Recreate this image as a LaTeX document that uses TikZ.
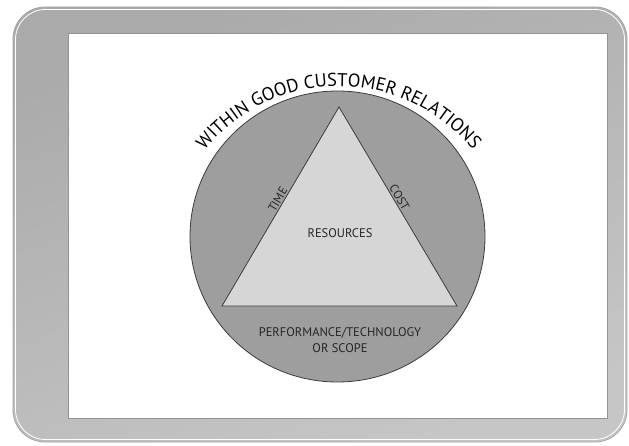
\documentclass[tikz,border=0pt]{standalone}
\usepackage{fontspec}
\setmainfont{PT Sans}
\usetikzlibrary{decorations.text}
\definecolor{bandgray}{HTML}{AAAAAA}
\definecolor{bandlight}{HTML}{C6C6C6}
\definecolor{circgray}{HTML}{9E9E9E}
\definecolor{trigray}{HTML}{D6D6D6}
\definecolor{linegray}{HTML}{3C3C3C}
\definecolor{txtgray}{HTML}{262626}
\tikzset{
  lbl/.style={text=txtgray, font=\fontsize{12}{13}\selectfont, inner sep=1.5pt},
  shapeline/.style={draw=linegray, line width=0.8pt}
}
\begin{document}
\begin{tikzpicture}[x=1pt,y=1pt]
\useasboundingbox (0,0) rectangle (629,445);
\fill[white] (0,0) rectangle (629,445);
% frame
\shade[rounded corners=32pt, top color=bandgray, bottom color=bandlight, shading angle=20] (13,3) rectangle (627,438);
\draw[rounded corners=32pt, draw=gray!70, line width=0.8pt] (13,3) rectangle (627,438);
\draw[rounded corners=30pt, draw=white, line width=0.8pt] (15.5,5.5) rectangle (624.5,435.5);
\fill[white] (68,27) rectangle (607,412);
\draw[draw=gray!85, line width=0.7pt] (68,27) rectangle (607,412);
% circle
\draw[shapeline, fill=circgray] (337.5,208.5) ellipse [x radius=147.5, y radius=145.5];
% triangle
\coordinate (A) at (339,338);
\coordinate (L) at (222,139);
\coordinate (R) at (457,139);
\draw[shapeline, fill=trigray, line join=miter] (L) -- (A) -- (R) -- cycle;
\path (L) -- (A) node[lbl, pos=0.52, sloped, anchor=south] (time) {TIME};
\path (A) -- (R) node[lbl, pos=0.47, sloped, anchor=south] (cost) {COST};
\node[lbl, font=\fontsize{12.5}{13}\selectfont] (res) at (340,212) {RESOURCES};
\node[lbl, font=\fontsize{12.5}{16}\selectfont, align=center] (perf) at (340,105) {PERFORMANCE/TECHNOLOGY\\OR SCOPE};
% arc text
\path[decorate, decoration={text along path, text align=center,
  text={|\fontsize{18.5}{19}\selectfont\color{black}|WITHIN GOOD CUSTOMER RELATIONS}}]
  (197.8,285.5) arc[start angle=145, end angle=35, radius=172];
\end{tikzpicture}
\end{document}
